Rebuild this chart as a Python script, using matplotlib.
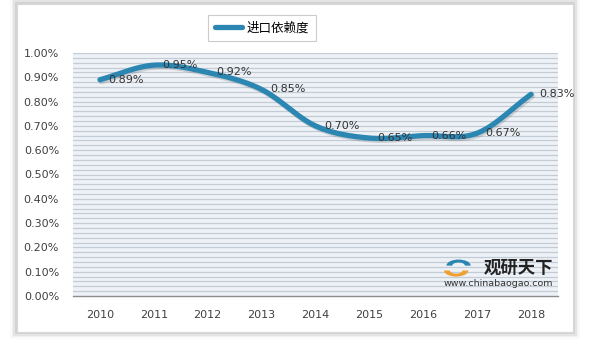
import matplotlib
matplotlib.use("Agg")
import matplotlib.pyplot as plt
import numpy as np
from matplotlib.patches import Rectangle, Wedge

plt.rcParams["font.family"] = ["Noto Sans CJK SC", "DejaVu Sans"]

years = ["2010", "2011", "2012", "2013", "2014", "2015", "2016", "2017", "2018"]
ratio = [0.89, 0.95, 0.92, 0.85, 0.70, 0.65, 0.66, 0.67, 0.83]
series_name = "进口依赖度"
LINE = "#2b86b2"


def catmull_rom(x, y, n=30):
    # smoothed line like the spreadsheet's "smooth line" option
    px = np.concatenate([[2 * x[0] - x[1]], x, [2 * x[-1] - x[-2]]])
    py = np.concatenate([[2 * y[0] - y[1]], y, [2 * y[-1] - y[-2]]])
    xs, ys = [], []
    t = np.linspace(0, 1, n)
    for i in range(1, len(px) - 2):
        p0, p1, p2, p3 = [np.array([px[j], py[j]]) for j in range(i - 1, i + 3)]
        for tt in t:
            pt = 0.5 * ((2 * p1) + (-p0 + p2) * tt
                        + (2 * p0 - 5 * p1 + 4 * p2 - p3) * tt ** 2
                        + (-p0 + 3 * p1 - 3 * p2 + p3) * tt ** 3)
            xs.append(pt[0])
            ys.append(pt[1])
    return np.array(xs), np.array(ys)


fig = plt.figure(figsize=(5.92, 3.44), dpi=100)
fig.patch.set_facecolor("white")

# card with soft shadow
for k, a in enumerate([0.07, 0.05, 0.035, 0.02]):
    d = (k + 1) * 0.003
    fig.patches.append(Rectangle((17 / 592 - d, 1 - 332 / 344 - d * 1.7), 556 / 592 + 2 * d,
                                 328 / 344 + 2 * d * 1.7, transform=fig.transFigure,
                                 facecolor="black", alpha=a, edgecolor="none", zorder=-2))
fig.patches.append(Rectangle((17 / 592, 1 - 332 / 344), 556 / 592, 328 / 344,
                             transform=fig.transFigure, facecolor="white",
                             edgecolor="#d9d9d9", linewidth=0.8, zorder=-1))

ax = fig.add_axes([73 / 592, 1 - 296 / 344, 485 / 592, 243 / 344])
ax.set_facecolor("#eef2f7")
x = np.arange(len(years))
ax.set_xlim(-0.5, len(years) - 0.5)
ax.set_ylim(0, 1.0)

# striped pattern fill of the plot area
for yy in np.arange(0.02, 1.0001, 0.02):
    ax.axhline(yy, color="#c3ccd6", linewidth=0.9, zorder=1)

sx, sy = catmull_rom(x.astype(float), np.array(ratio))
ax.plot(sx + 0.025, sy - 0.007, color="#555555", alpha=0.22, linewidth=4,
        solid_capstyle="round", zorder=2)
ax.plot(sx, sy, color=LINE, linewidth=3.8, solid_capstyle="round", zorder=3,
        label=series_name)

for xi, v in zip(x, ratio):
    ax.annotate(f"{v:.2f}%", (xi, v), xytext=(6, 0), textcoords="offset points",
                ha="left", va="center", fontsize=8, color="#333333",
                family="DejaVu Sans", zorder=4)

ax.set_xticks(x)
ax.set_xticklabels(years, family="DejaVu Sans")
ax.set_yticks(np.arange(0, 1.01, 0.1))
ax.set_yticklabels([f"{v:.2f}%" for v in np.arange(0, 1.01, 0.1)], family="DejaVu Sans")
ax.tick_params(axis="both", length=0, labelsize=8, colors="#404040")
ax.tick_params(axis="x", pad=10)
ax.tick_params(axis="y", pad=10)
for s in ["top", "right", "left"]:
    ax.spines[s].set_visible(False)
ax.spines["bottom"].set_color("#8c8c8c")
ax.spines["bottom"].set_linewidth(1.0)

leg = fig.legend(loc="center", bbox_to_anchor=(262 / 592, 1 - 28 / 344),
                 frameon=True, fontsize=9, handlelength=2.2, handletextpad=0.4,
                 fancybox=False, borderpad=0.5, edgecolor="#bfbfbf")
leg.get_frame().set_linewidth(0.8)

# watermark
ax.text(0.99, 0.115, "观研天下", transform=ax.transAxes, ha="right", va="center",
        fontsize=12.5, fontweight="bold", color="#222222", zorder=5)
ax.text(0.99, 0.053, "www.chinabaogao.com", transform=ax.transAxes, ha="right",
        va="center", fontsize=6.8, color="#333333", family="DejaVu Sans", zorder=5)
ax.add_patch(Wedge((0.79, 0.105), 0.025, 180, 360, width=0.012, transform=ax.transAxes,
                   facecolor="#f0a030", edgecolor="none", zorder=5))
ax.add_patch(Wedge((0.795, 0.125), 0.025, 0, 180, width=0.012, transform=ax.transAxes,
                   facecolor="#2b86b2", edgecolor="none", zorder=5))

fig.savefig("out.png", dpi=100)
